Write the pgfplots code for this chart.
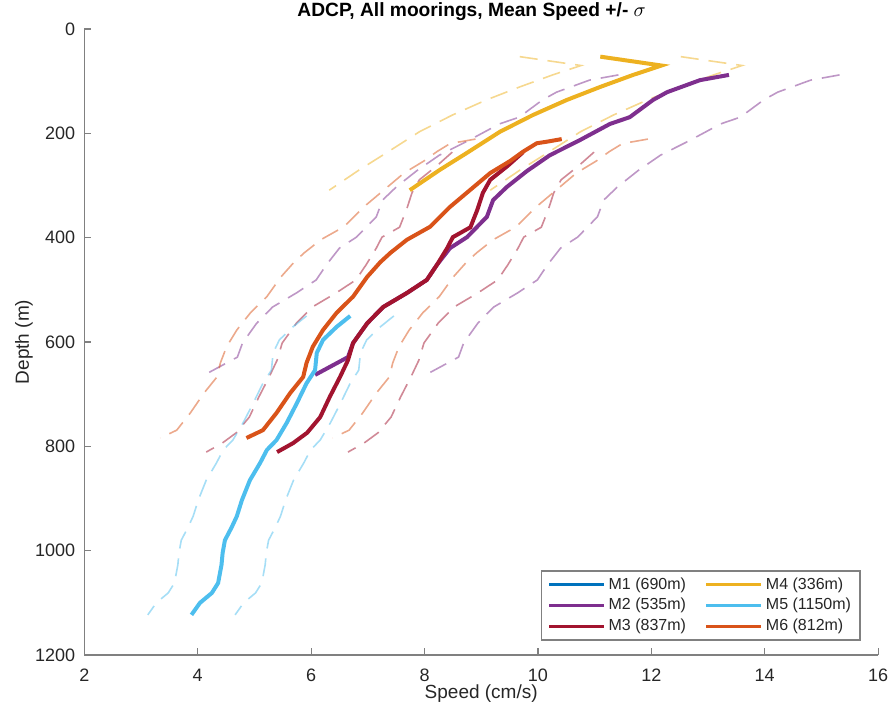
\documentclass[border=0pt]{standalone}
\usepackage{pgfplots}
\pgfplotsset{compat=1.18}
\usepackage{fontspec}
\setmainfont{Liberation Sans}
\definecolor{mA}{rgb}{0,0.447,0.741}
\definecolor{mB}{rgb}{0.494,0.184,0.556}
\definecolor{mC}{rgb}{0.635,0.078,0.184}
\definecolor{mD}{rgb}{0.929,0.694,0.125}
\definecolor{mE}{rgb}{0.301,0.745,0.933}
\definecolor{mF}{rgb}{0.850,0.325,0.098}
\definecolor{axgray}{rgb}{0.5,0.5,0.5}
\definecolor{txtgray}{rgb}{0.15,0.15,0.15}
\begin{document}
\begin{tikzpicture}
\useasboundingbox (-42.15pt,-29pt) rectangle (403.85pt,327.5pt);
\begin{axis}[
  at={(0pt,0pt)}, anchor=south west,
  scale only axis, width=396.9pt, height=313pt,
  xmin=2, xmax=16, ymin=0, ymax=1200,
  y dir=reverse,
  axis x line*=bottom, axis y line*=left,
  axis line style={color=axgray, line width=0.6pt},
  tick align=inside, major tick length=3.5pt,
  tick style={color=axgray, line width=0.6pt},
  xtick={2,4,...,16}, ytick={0,200,...,1200},
  /pgf/number format/assume math mode=true,
  /pgf/number format/1000 sep={},
  tick label style={font=\fontsize{9}{10}\selectfont, text=txtgray},
  xticklabel style={yshift=-3.5pt},
  yticklabel style={xshift=-1pt},
  every axis x label/.style={at={(axis description cs:0.5,-0.0687)}, anchor=base, font=\fontsize{9.5}{11}\selectfont, text=txtgray},
  every axis y label/.style={at={(axis description cs:-0.076,0.5)}, rotate=90, anchor=center, font=\fontsize{9.5}{11}\selectfont, text=txtgray},
  every axis title/.style={at={(axis description cs:0.488,1.020)}, anchor=base, font=\bfseries\fontsize{9.6}{11}\selectfont},
  xlabel={Speed (cm/s)}, ylabel={Depth (m)},
  title={ADCP, All moorings, Mean Speed +/- $\sigma$},
  legend columns=2,
  legend cell align=left,
  legend image code/.code={\draw[#1, line width=1.5pt] (0pt,0pt) -- (27.5pt,0pt);},
  legend style={at={(axis description cs:0.978,0.023)}, anchor=south east,
    draw=axgray, line width=0.6pt, fill=white,
    font=\fontsize{8}{9}\selectfont, text=txtgray,
    inner xsep=3pt, inner ysep=1.75pt,
    nodes={inner sep=1.5pt, text height=5.8pt, text depth=1.55pt},
    /tikz/every even column/.append style={column sep=8pt}},
  dashed line/.style={line width=0.8pt, opacity=0.5, dash pattern=on 9pt off 5pt},
  solid line/.style={line width=2pt},
]
% ---- M2 ----
\addplot[forget plot, mB, dashed line] coordinates {(11.42,88) (10.91,98) (10.33,121) (10.08,136) (9.67,169) (9.32,182) (8.79,213) (8.26,242) (7.86,272) (7.50,303) (7.26,328) (7.15,360) (6.80,399) (6.50,420) (6.27,452) (6.09,481) (5.74,506) (5.32,533) (5.04,564) (4.79,602) (4.70,629) (4.12,663)};
\addplot[forget plot, mB, dashed line] coordinates {(15.32,88) (14.81,98) (14.23,121) (13.98,136) (13.57,169) (13.22,182) (12.69,213) (12.16,242) (11.76,272) (11.40,303) (11.16,328) (11.05,360) (10.70,399) (10.40,420) (10.17,452) (9.99,481) (9.64,506) (9.22,533) (8.94,564) (8.69,602) (8.60,629) (8.02,663)};
% ---- M3 ----
\addplot[forget plot, mC, dashed line] coordinates {(8.49,236) (8.21,263) (7.91,289) (7.78,314) (7.68,347) (7.56,380) (7.25,399) (7.15,420) (6.97,452) (6.79,481) (6.44,506) (6.02,533) (5.74,564) (5.49,602) (5.40,635) (5.26,667) (5.08,705) (4.91,744) (4.68,774) (4.43,794) (4.15,811)};
\addplot[forget plot, mC, dashed line] coordinates {(10.99,236) (10.71,263) (10.41,289) (10.28,314) (10.18,347) (10.06,380) (9.75,399) (9.65,420) (9.47,452) (9.29,481) (8.94,506) (8.52,533) (8.24,564) (7.99,602) (7.90,635) (7.76,667) (7.58,705) (7.41,744) (7.18,774) (6.93,794) (6.65,811)};
% ---- M4 ----
\addplot[forget plot, mD, dashed line] coordinates {(9.68,53) (10.76,70) (10.26,88) (9.68,111) (9.09,136) (8.49,165) (7.91,197) (7.68,213) (7.32,238) (6.85,270) (6.32,309)};
\addplot[forget plot, mD, dashed line] coordinates {(12.52,53) (13.60,70) (13.10,88) (12.52,111) (11.93,136) (11.33,165) (10.75,197) (10.52,213) (10.16,238) (9.69,270) (9.16,309)};
% ---- M5 ----
\addplot[forget plot, mE, dashed line] coordinates {(5.92,550) (5.68,571) (5.44,596) (5.33,621) (5.30,654) (5.15,679) (4.98,717) (4.80,755) (4.62,788) (4.45,807) (4.33,832) (4.15,865) (4.01,903) (3.92,934) (3.83,955) (3.71,980) (3.67,1004) (3.65,1027) (3.59,1062) (3.48,1081) (3.27,1100) (3.12,1123)};
\addplot[forget plot, mE, dashed line] coordinates {(7.46,550) (7.22,571) (6.98,596) (6.87,621) (6.84,654) (6.69,679) (6.52,717) (6.34,755) (6.16,788) (5.99,807) (5.87,832) (5.69,865) (5.55,903) (5.46,934) (5.37,955) (5.25,980) (5.21,1004) (5.19,1027) (5.13,1062) (5.02,1081) (4.81,1100) (4.66,1123)};
% ---- M6 ----
\addplot[forget plot, mF, dashed line] coordinates {(8.90,211) (8.64,216) (8.46,219) (8.22,235) (7.99,253) (7.64,276) (7.28,309) (6.93,341) (6.58,379) (6.17,404) (5.88,429) (5.70,447) (5.47,475) (5.22,513) (4.93,544) (4.69,577) (4.51,609) (4.40,640) (4.34,667) (4.11,698) (3.87,736) (3.63,769) (3.34,784)};
\addplot[forget plot, mF, dashed line] coordinates {(11.94,211) (11.68,216) (11.50,219) (11.26,235) (11.03,253) (10.68,276) (10.32,309) (9.97,341) (9.62,379) (9.21,404) (8.92,429) (8.74,447) (8.51,475) (8.26,513) (7.97,544) (7.73,577) (7.55,609) (7.44,640) (7.38,667) (7.15,698) (6.91,736) (6.67,769) (6.38,784)};
% ---- means ----
\addplot[forget plot, mB, solid line] coordinates {(13.37,88) (12.86,98) (12.28,121) (12.03,136) (11.62,169) (11.27,182) (10.74,213) (10.21,242) (9.81,272) (9.45,303) (9.21,328) (9.10,360) (8.75,399) (8.45,420) (8.22,452) (8.04,481) (7.69,506) (7.27,533) (6.99,564) (6.74,602) (6.65,629) (6.07,663)};
\addplot[forget plot, mC, solid line] coordinates {(9.74,236) (9.46,263) (9.16,289) (9.03,314) (8.93,347) (8.81,380) (8.50,399) (8.40,420) (8.22,452) (8.04,481) (7.69,506) (7.27,533) (6.99,564) (6.74,602) (6.65,635) (6.51,667) (6.33,705) (6.16,744) (5.93,774) (5.68,794) (5.40,811)};
\addplot[forget plot, mD, solid line] coordinates {(11.10,53) (12.18,70) (11.68,88) (11.10,111) (10.51,136) (9.91,165) (9.33,197) (9.10,213) (8.74,238) (8.27,270) (7.74,309)};
\addplot[forget plot, mE, solid line] coordinates {(6.69,550) (6.45,571) (6.21,596) (6.10,621) (6.07,654) (5.92,679) (5.75,717) (5.57,755) (5.39,788) (5.22,807) (5.10,832) (4.92,865) (4.78,903) (4.69,934) (4.60,955) (4.48,980) (4.44,1004) (4.42,1027) (4.36,1062) (4.25,1081) (4.04,1100) (3.89,1123)};
\addplot[forget plot, mF, solid line] coordinates {(10.42,211) (10.16,216) (9.98,219) (9.74,235) (9.51,253) (9.16,276) (8.80,309) (8.45,341) (8.10,379) (7.69,404) (7.40,429) (7.22,447) (6.99,475) (6.74,513) (6.45,544) (6.21,577) (6.03,609) (5.92,640) (5.86,667) (5.63,698) (5.39,736) (5.15,769) (4.86,784)};
% ---- legend (column-wise order as in the reference) ----
\addlegendimage{mA}\addlegendentry{M1 (690m)}
\addlegendimage{mD}\addlegendentry{M4 (336m)}
\addlegendimage{mB}\addlegendentry{M2 (535m)}
\addlegendimage{mE}\addlegendentry{M5 (1150m)}
\addlegendimage{mC}\addlegendentry{M3 (837m)}
\addlegendimage{mF}\addlegendentry{M6 (812m)}
\end{axis}
\end{tikzpicture}
\end{document}
